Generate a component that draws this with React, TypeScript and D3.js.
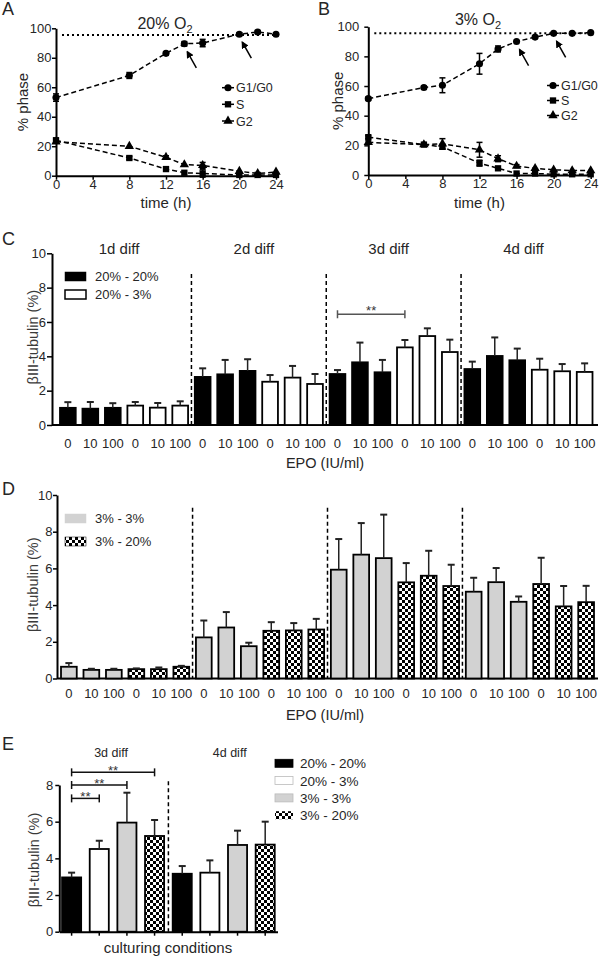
import React, { useEffect, useRef } from 'react';
import * as d3 from 'd3';

// A: 20% O2 time course, % of cells in each phase
const timesA = [0, 8, 12, 14, 16, 20, 22, 24];
const g1A = [53, 68, 83, 89.5, 90, 96, 97.5, 96];
const g1AErr = [2.5, 2, 1, 1.5, 2.5, 1, 1, 0.5];
const sA = [24, 12, 4.5, 2, 1.5, 0.5, 0.5, 0.5];
const sAErr = [1.5, 1, 1, 0.5, 2.5, 0.5, 0.5, 0.5];
const g2A = [23, 20, 12.5, 7.5, 7, 3, 1.5, 2.5];
const g2AErr = [1, 0.5, 1, 0.5, 2, 0.5, 0.5, 0.5];
const arrowsA = [14, 20];

// B: 3% O2 time course
const timesB = [0, 6, 8, 12, 14, 16, 18, 20, 22, 24];
const g1B = [51.5, 59, 60.5, 75, 85, 90, 93, 95.5, 95.5, 96];
const g1BErr = [1, 1, 5, 7, 2, 0.5, 0.5, 0.5, 0.5, 0.5];
const sB = [25.5, 20.5, 19, 8, 4.5, 1, 1, 0.5, 0.5, 0.5];
const sBErr = [1, 0.5, 1.5, 2, 0.5, 0.5, 0.5, 0.5, 0.5, 0.5];
const g2B = [22, 20.5, 21, 17, 11, 6, 4.5, 3.5, 3, 3];
const g2BErr = [1, 0.5, 3.5, 5, 2, 1, 0.5, 0.5, 0.5, 0.5];
const arrowsB = [16, 20];

const timeTicks = [0, 4, 8, 12, 16, 20, 24];
const phaseTicks = [0, 20, 40, 60, 80, 100];
const plateau = 95.5;

// C / D: betaIII-tubulin per differentiation day, EPO 0 / 10 / 100
const diffDays = ['1d diff', '2d diff', '3d diff', '4d diff'];
const epoDoses = ['0', '10', '100'];
const c20to20 = [1.0, 0.95, 1.0, 2.8, 2.95, 3.15, 2.97, 3.65, 3.07, 3.26, 4.02, 3.77];
const c20to20Err = [0.33, 0.39, 0.27, 0.5, 0.84, 0.68, 0.23, 1.15, 0.72, 0.43, 1.08, 0.68];
const c20to3 = [1.13, 1.01, 1.13, 2.52, 2.76, 2.39, 4.52, 5.18, 4.25, 3.22, 3.13, 3.09];
const c20to3Err = [0.21, 0.27, 0.25, 0.39, 0.68, 0.58, 0.43, 0.45, 0.72, 0.64, 0.42, 0.5];
const d3to3 = [0.64, 0.47, 0.47, 2.24, 2.78, 1.76, 5.93, 6.75, 6.56, 4.73, 5.25, 4.18];
const d3to3Err = [0.2, 0.06, 0.06, 0.92, 0.84, 0.19, 1.67, 1.72, 2.37, 0.76, 0.77, 0.29];
const d3to20 = [0.51, 0.51, 0.64, 2.6, 2.62, 2.67, 5.24, 5.6, 5.04, 5.15, 3.93, 4.16];
const d3to20Err = [0.04, 0.09, 0.05, 0.47, 0.4, 0.58, 1.05, 1.36, 1.16, 1.43, 1.11, 0.89];
const tubulinTicks = [0, 2, 4, 6, 8, 10];
const cSigPair = [12, 15];
const cSigLevel = 6.45;

// E: summary, 3d and 4d diff without EPO
const eConditions = ['20% - 20%', '20% - 3%', '3% - 3%', '3% - 20%'];
const eDays = ['3d diff', '4d diff'];
const e3d = [2.96, 4.51, 5.95, 5.22];
const e3dErr = [0.26, 0.45, 1.63, 0.87];
const e4d = [3.16, 3.22, 4.73, 4.75];
const e4dErr = [0.42, 0.67, 0.78, 1.25];
const eTicks = [0, 2, 4, 6, 8];
const eSigPairs = [[0, 1], [0, 2], [0, 3]];
const eSigLevels = [7.27, 8.0, 8.69];

const FONT = 'Arial, "Liberation Sans", Helvetica, sans-serif';
const INK = '#000';
const TXT = '#262626';
const GREY = '#d2d2d2';
const condFill: any = {
  '20% - 20%': '#000',
  '20% - 3%': '#fff',
  '3% - 3%': GREY,
  '3% - 20%': 'url(#checker)',
};

function label(g: any, x: number, y: number, str: string, size: number, anchor = 'start', color = TXT) {
  return g.append('text').attr('x', x).attr('y', y).attr('font-family', FONT).attr('font-weight', 400)
    .attr('font-size', size).attr('text-anchor', anchor).attr('fill', color).text(str);
}

function yTitle(g: any, x: number, y: number, str: string, size: number, color = TXT) {
  g.append('text').attr('transform', `translate(${x},${y}) rotate(-90)`)
    .attr('font-family', FONT).attr('font-weight', 400).attr('font-size', size).attr('text-anchor', 'middle')
    .attr('fill', color).text(str);
}

function styleAxis(a: any, size = 13) {
  a.attr('font-family', FONT);
  a.select('.domain').attr('stroke', INK).attr('stroke-width', 2);
  a.selectAll('.tick line').attr('stroke', INK).attr('stroke-width', 1.5);
  a.selectAll('.tick text').attr('fill', TXT).attr('font-size', size)
    .attr('font-family', FONT).attr('font-weight', 400);
}

function drawTimePanel(svg: any, p: any) {
  const g = svg.append('g');
  const x = d3.scaleLinear().domain([0, 24]).range([p.left, p.right]);
  const y = d3.scaleLinear().domain([0, 100]).range([p.bottom, p.top]);

  const ax = g.append('g').attr('transform', `translate(0,${p.bottom})`)
    .call(d3.axisBottom(x).tickValues(timeTicks).tickSize(4).tickSizeOuter(0).tickPadding(0));
  styleAxis(ax);
  const ay = g.append('g').attr('transform', `translate(${p.left},0)`)
    .call(d3.axisLeft(y).tickValues(phaseTicks).tickSize(4).tickSizeOuter(0).tickPadding(p.yPad));
  styleAxis(ay);

  // dotted plateau
  g.append('line').attr('x1', x(0) + 6).attr('x2', x(24) + 2)
    .attr('y1', y(plateau)).attr('y2', y(plateau))
    .attr('stroke', INK).attr('stroke-width', 2).attr('stroke-dasharray', '2,3');

  const series = [
    { name: 'G1/G0', values: p.g1, errs: p.g1Err, symbol: d3.symbolCircle, size: 40 },
    { name: 'S', values: p.s, errs: p.sErr, symbol: d3.symbolSquare, size: 40 },
    { name: 'G2', values: p.g2, errs: p.g2Err, symbol: d3.symbolTriangle, size: 38 },
  ];
  const line = d3.line<number>().x((d, i) => x(p.times[i])).y((d) => y(d));
  series.forEach((s) => {
    g.append('path').attr('d', line(s.values)).attr('fill', 'none')
      .attr('stroke', INK).attr('stroke-width', 1.5).attr('stroke-dasharray', '5,3');
    s.values.forEach((v: number, i: number) => {
      const cx = x(p.times[i]);
      const e = s.errs[i];
      if (e >= 1) {
        g.append('line').attr('x1', cx).attr('x2', cx).attr('y1', y(v - e)).attr('y2', y(v + e))
          .attr('stroke', INK).attr('stroke-width', 1.5);
        [v - e, v + e].forEach((c) => {
          g.append('line').attr('x1', cx - 3).attr('x2', cx + 3).attr('y1', y(c)).attr('y2', y(c))
            .attr('stroke', INK).attr('stroke-width', 1.5);
        });
      }
      g.append('path').attr('d', d3.symbol().type(s.symbol).size(s.size)())
        .attr('transform', `translate(${cx},${y(v)})`).attr('fill', INK);
    });
  });

  // arrows pointing at the plateau points
  p.arrows.forEach((t: number) => {
    const i = p.times.indexOf(t);
    const px = x(t), py = y(p.g1[i]);
    g.append('line').attr('x1', px + 12).attr('y1', py + 24).attr('x2', px + 3).attr('y2', py + 8)
      .attr('stroke', INK).attr('stroke-width', 1.5).attr('marker-end', 'url(#arrowhead)');
  });

  // legend
  series.forEach((s, k) => {
    const ly = p.legendY[k];
    g.append('line').attr('x1', p.legendX - 6).attr('x2', p.legendX + 6).attr('y1', ly).attr('y2', ly)
      .attr('stroke', INK).attr('stroke-width', 1.5);
    g.append('path').attr('d', d3.symbol().type(s.symbol).size(s.size)())
      .attr('transform', `translate(${p.legendX},${ly})`).attr('fill', INK);
    label(g, p.legendX + 8, ly + 4.5, s.name, 12.5);
  });

  const title = g.append('text').attr('x', p.titleX).attr('y', p.titleY).attr('font-family', FONT)
    .attr('font-weight', 400).attr('font-size', 16).attr('text-anchor', 'middle').attr('fill', TXT);
  title.append('tspan').text(p.title);
  title.append('tspan').attr('font-size', 11).attr('dy', 4).text('2');

  label(g, (p.left + p.right) / 2, 208, 'time (h)', 15, 'middle');
  yTitle(g, p.yTitleX, (p.top + p.bottom) / 2, '% phase', 15);
  label(g, p.letterX, 15, p.letter, 18);
}

function drawBars(g: any, x: any, y: any, bars: any[]) {
  const bw = x.bandwidth();
  bars.forEach((b, i) => {
    g.append('rect').attr('x', x(i)).attr('y', y(b.value)).attr('width', bw)
      .attr('height', y(0) - y(b.value)).attr('fill', b.fill)
      .attr('stroke', INK).attr('stroke-width', 1.8);
  });
  bars.forEach((b, i) => {
    const cx = x(i) + bw / 2;
    g.append('line').attr('x1', cx).attr('x2', cx).attr('y1', y(b.value)).attr('y2', y(b.value + b.err))
      .attr('stroke', '#222').attr('stroke-width', 1.5);
    g.append('line').attr('x1', cx - 3.5).attr('x2', cx + 3.5)
      .attr('y1', y(b.value + b.err)).attr('y2', y(b.value + b.err))
      .attr('stroke', '#222').attr('stroke-width', 2);
  });
}

function separator(g: any, sx: number, y1: number, y2: number) {
  g.append('line').attr('x1', sx).attr('x2', sx).attr('y1', y1).attr('y2', y2)
    .attr('stroke', INK).attr('stroke-width', 1.5).attr('stroke-dasharray', '4,3');
}

function bracket(g: any, x1: number, x2: number, by: number, color: string, dy: number) {
  g.append('line').attr('x1', x1).attr('x2', x2).attr('y1', by).attr('y2', by)
    .attr('stroke', color).attr('stroke-width', 1.5);
  [x1, x2].forEach((bx) => {
    g.append('line').attr('x1', bx).attr('x2', bx).attr('y1', by - 4).attr('y2', by + 4)
      .attr('stroke', color).attr('stroke-width', 1.5);
  });
  label(g, (x1 + x2) / 2, by + dy, '**', 13, 'middle', '#333');
}

function drawEpoPanel(svg: any, p: any) {
  const g = svg.append('g');
  const y = d3.scaleLinear().domain([0, 10]).range([p.bottom, p.top]);
  const x = d3.scaleBand<number>().domain(d3.range(p.bars.length)).range(p.band)
    .paddingInner(0.3).paddingOuter(0.267);
  const bw = x.bandwidth();

  g.append('line').attr('x1', p.left).attr('x2', p.right).attr('y1', p.bottom).attr('y2', p.bottom)
    .attr('stroke', INK).attr('stroke-width', 2);
  const ay = g.append('g').attr('transform', `translate(${p.left},0)`)
    .call(d3.axisLeft(y).tickValues(tubulinTicks).tickSize(p.tick).tickSizeOuter(0).tickPadding(p.yPad));
  styleAxis(ay);

  drawBars(g, x, y, p.bars);

  const gs = 6;
  for (let k = 1; k < diffDays.length; k++) {
    const sx = (x(k * gs - 1)! + bw + x(k * gs)!) / 2;
    separator(g, sx, y(p.sepTop), p.bottom);
  }

  p.bars.forEach((b: any, i: number) => {
    label(g, x(i)! + bw / 2, p.tickY, b.dose, 13, 'middle');
  });

  if (p.groupLabels) {
    diffDays.forEach((d, k) => {
      const cx = (x(k * gs)! + x(k * gs + gs - 1)! + bw) / 2 - 5;
      label(g, cx, p.groupY, d, 15, 'middle');
    });
  }

  if (p.sig) {
    const [a, b] = p.sig;
    bracket(g, x(a)! + bw / 2, x(b)! + bw / 2, y(p.sigLevel), '#555', 1);
  }

  p.legend.forEach((l: any, k: number) => {
    g.append('rect').attr('x', p.legendX).attr('y', p.legendY[k]).attr('width', 21).attr('height', 9)
      .attr('fill', condFill[l]).attr('stroke', l === '3% - 3%' ? GREY : INK)
      .attr('stroke-width', l === '20% - 3%' ? 1.5 : 0.5);
    label(g, p.legendX + 30, p.legendY[k] + 9, l, 13);
  });

  label(g, 325, p.titleY, 'EPO (IU/ml)', 14.5, 'middle');
  yTitle(g, 38, (p.top + p.bottom) / 2 - 2, 'βIII-tubulin (%)', 14.5, '#3a3a3a');
  label(g, 2, p.letterY, p.letter, 18);
}

function drawSummary(svg: any) {
  const g = svg.append('g');
  const left = 59.3, right = 277.5, bottom = 931.7;
  const y = d3.scaleLinear().domain([0, 8]).range([bottom, 785]);
  const bars = [
    ...eConditions.map((c, i) => ({ value: e3d[i], err: e3dErr[i], fill: condFill[c] })),
    ...eConditions.map((c, i) => ({ value: e4d[i], err: e4dErr[i], fill: condFill[c] })),
  ];
  const x = d3.scaleBand<number>().domain(d3.range(bars.length)).range([left, right])
    .paddingInner(0.31).paddingOuter(0.1);
  const bw = x.bandwidth();

  const ax = g.append('g').attr('transform', `translate(0,${bottom})`)
    .call(d3.axisBottom(x).tickSize(4).tickSizeOuter(0).tickFormat(() => ''));
  styleAxis(ax);
  const ay = g.append('g').attr('transform', `translate(${left},0)`)
    .call(d3.axisLeft(y).tickValues(eTicks).tickSize(4).tickSizeOuter(0).tickPadding(2));
  styleAxis(ay);

  drawBars(g, x, y, bars);
  const n = eConditions.length;
  separator(g, (x(n - 1)! + bw + x(n)!) / 2, y(8.2), bottom);

  eDays.forEach((d, k) => {
    const cx = (x(k * n)! + x(k * n + n - 1)! + bw) / 2;
    label(g, cx - 2 + k * 8, 757, d, 12.5, 'middle');
  });

  eSigPairs.forEach(([a, b], k) => {
    bracket(g, x(a)! + bw / 2, x(b)! + bw / 2, y(eSigLevels[k]), '#111', 2.5);
  });

  eConditions.forEach((c, k) => {
    const ly = 759.3 + k * 17.3;
    g.append('rect').attr('x', 275).attr('y', ly).attr('width', 18).attr('height', 8)
      .attr('fill', condFill[c]).attr('stroke', c === '20% - 20%' ? INK : '#bbb')
      .attr('stroke-width', c === '3% - 20%' ? 0 : 0.8);
    label(g, 300, ly + 9, c, 13.5);
  });

  label(g, 168, 953, 'culturing conditions', 15, 'middle');
  yTitle(g, 39, 860, 'βIII-tubulin (%)', 14.5, '#3a3a3a');
  label(g, 2, 750, 'E', 18);
}

export default function App() {
  const ref = useRef<SVGSVGElement>(null);

  useEffect(() => {
    const svg = d3.select(ref.current);
    svg.selectAll('*').remove();

    const defs = svg.append('defs');
    const pat = defs.append('pattern').attr('id', 'checker').attr('patternUnits', 'userSpaceOnUse')
      .attr('width', 6).attr('height', 6);
    pat.append('rect').attr('width', 6).attr('height', 6).attr('fill', '#fff');
    pat.append('rect').attr('width', 3).attr('height', 3).attr('fill', '#000');
    pat.append('rect').attr('x', 3).attr('y', 3).attr('width', 3).attr('height', 3).attr('fill', '#000');
    defs.append('marker').attr('id', 'arrowhead').attr('viewBox', '0 0 10 10').attr('refX', 8).attr('refY', 5)
      .attr('markerWidth', 5).attr('markerHeight', 5).attr('orient', 'auto')
      .append('path').attr('d', 'M0,0 L10,5 L0,10 z').attr('fill', INK);

    svg.append('rect').attr('width', 600).attr('height', 958).attr('fill', '#fff');

    drawTimePanel(svg, {
      left: 56, right: 276, top: 28.3, bottom: 175.7, yPad: 0.5,
      times: timesA, g1: g1A, g1Err: g1AErr, s: sA, sErr: sAErr, g2: g2A, g2Err: g2AErr,
      arrows: arrowsA, legendX: 228, legendY: [87.7, 104.3, 121],
      title: '20% O', titleX: 165, titleY: 29, yTitleX: 28, letter: 'A', letterX: 2,
    });
    drawTimePanel(svg, {
      left: 368.3, right: 590.7, top: 26.7, bottom: 175, yPad: 5,
      times: timesB, g1: g1B, g1Err: g1BErr, s: sB, sErr: sBErr, g2: g2B, g2Err: g2BErr,
      arrows: arrowsB, legendX: 553, legendY: [85.5, 100.5, 115.5],
      title: '3% O', titleX: 478, titleY: 25, yTitleX: 343, letter: 'B', letterX: 318,
    });

    const cBars = diffDays.flatMap((_, d) => [
      ...epoDoses.map((dose, k) => ({ value: c20to20[d * 3 + k], err: c20to20Err[d * 3 + k], fill: condFill['20% - 20%'], dose })),
      ...epoDoses.map((dose, k) => ({ value: c20to3[d * 3 + k], err: c20to3Err[d * 3 + k], fill: condFill['20% - 3%'], dose })),
    ]);
    drawEpoPanel(svg, {
      bars: cBars, left: 52, right: 598, top: 253.3, bottom: 425, band: [54, 598.5],
      tick: 5, yPad: 1, sepTop: 8.8, tickY: 448, groupLabels: true, groupY: 253.5,
      sig: cSigPair, sigLevel: cSigLevel,
      legend: ['20% - 20%', '20% - 3%'], legendX: 65, legendY: [272, 290],
      titleY: 468, letter: 'C', letterY: 245,
    });

    const dBars = diffDays.flatMap((_, d) => [
      ...epoDoses.map((dose, k) => ({ value: d3to3[d * 3 + k], err: d3to3Err[d * 3 + k], fill: condFill['3% - 3%'], dose })),
      ...epoDoses.map((dose, k) => ({ value: d3to20[d * 3 + k], err: d3to20Err[d * 3 + k], fill: condFill['3% - 20%'], dose })),
    ]);
    drawEpoPanel(svg, {
      bars: dBars, left: 57, right: 598, top: 495, bottom: 678.5, band: [55, 600],
      tick: 4, yPad: 0.5, sepTop: 9.3, tickY: 698, groupLabels: false,
      legend: ['3% - 3%', '3% - 20%'], legendX: 65, legendY: [514, 537],
      titleY: 720, letter: 'D', letterY: 495,
    });

    drawSummary(svg);
  }, []);

  return (
    <svg ref={ref} width={600} height={958}
      style={{ position: 'absolute', left: 0, top: 0, display: 'block' }} />
  );
}
